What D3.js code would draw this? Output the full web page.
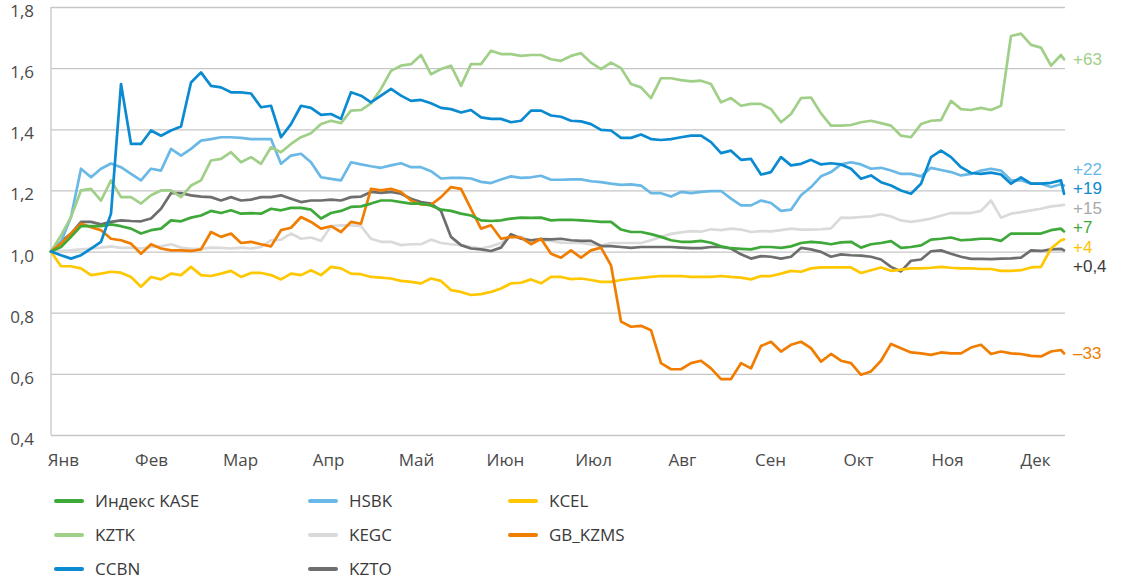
<!DOCTYPE html>
<html><head><meta charset="utf-8">
<script src="https://cdn.jsdelivr.net/npm/d3@7"></script>
<style>
body{margin:0;background:#fff}
svg{display:block;font-family:'Open Sans',sans-serif}
</style>
</head><body>
<svg id="chart" width="1121" height="584"></svg>
<script>
// ---------- DATA ----------
const months = ["Янв","Фев","Мар","Апр","Май","Июн","Июл","Авг","Сен","Окт","Ноя","Дек"];
// month label positions on the trading-day sample index
const monthPos = [1.2, 10.0, 18.9, 27.7, 36.5, 45.4, 54.2, 63.1, 71.9, 80.7, 89.6, 98.4];
const yTicks = [0.4, 0.6, 0.8, 1.0, 1.2, 1.4, 1.6, 1.8];
// sample index (roughly every few trading days, last = year end)
const sampleIdx = d3.range(102).concat([101.3]);

const kase = [
1.0,1.015,1.048,1.083,1.083,1.083,1.089,1.083,1.075,1.059,1.07,1.075,1.102,1.099,1.111,1.118,1.133,
1.126,1.135,1.124,1.126,1.124,1.140,1.135,1.143,1.143,1.137,1.108,1.126,1.133,1.146,1.148,1.157,1.167,
1.167,1.162,1.157,1.157,1.151,1.137,1.133,1.124,1.118,1.102,1.1,1.102,1.108,1.111,1.110,1.111,1.102,
1.104,1.104,1.102,1.1,1.097,1.097,1.072,1.064,1.064,1.057,1.048,1.037,1.032,1.032,1.035,1.029,1.017,
1.011,1.009,1.007,1.015,1.015,1.012,1.017,1.028,1.032,1.029,1.024,1.030,1.032,1.013,1.024,1.028,1.034,
1.012,1.015,1.020,1.039,1.042,1.046,1.037,1.039,1.042,1.042,1.035,1.059,1.059,1.059,1.059,1.070,1.075,1.066];

const kztk = [
1.0,1.053,1.113,1.2,1.205,1.167,1.233,1.178,1.178,1.157,1.184,1.2,1.2,1.178,1.216,1.233,1.298,
1.303,1.325,1.292,1.309,1.287,1.341,1.325,1.352,1.374,1.387,1.417,1.428,1.42,1.461,1.463,1.485,1.532,
1.591,1.608,1.613,1.643,1.580,1.597,1.608,1.542,1.613,1.613,1.657,1.646,1.646,1.640,1.643,1.643,1.629,
1.624,1.640,1.649,1.618,1.597,1.618,1.6,1.548,1.537,1.502,1.567,1.567,1.561,1.557,1.559,1.548,1.488,
1.502,1.477,1.483,1.483,1.466,1.423,1.45,1.502,1.504,1.452,1.412,1.412,1.414,1.423,1.428,1.42,1.412,
1.379,1.374,1.417,1.428,1.430,1.493,1.466,1.463,1.47,1.463,1.477,1.705,1.713,1.676,1.667,1.608,1.643,1.629];

const ccbn = [
1.0,0.988,0.977,0.988,1.010,1.032,1.124,1.548,1.352,1.352,1.396,1.379,1.396,1.409,1.553,1.586,1.542,
1.537,1.521,1.521,1.517,1.472,1.477,1.374,1.417,1.477,1.470,1.447,1.450,1.434,1.521,1.510,1.488,1.510,
1.532,1.510,1.493,1.496,1.485,1.470,1.466,1.455,1.463,1.439,1.434,1.434,1.423,1.428,1.461,1.461,1.445,
1.441,1.428,1.426,1.417,1.398,1.396,1.372,1.372,1.383,1.368,1.365,1.368,1.374,1.379,1.379,1.358,1.322,
1.330,1.300,1.303,1.252,1.260,1.309,1.282,1.287,1.300,1.285,1.289,1.285,1.271,1.238,1.249,1.227,1.216,
1.2,1.189,1.222,1.309,1.33,1.309,1.276,1.257,1.254,1.258,1.252,1.222,1.243,1.222,1.222,1.225,1.233,1.189];

const hsbk = [
1.0,1.032,1.113,1.271,1.243,1.271,1.288,1.276,1.254,1.233,1.271,1.265,1.336,1.314,1.336,1.363,1.368,
1.374,1.374,1.372,1.368,1.368,1.368,1.287,1.314,1.320,1.292,1.243,1.238,1.233,1.292,1.285,1.279,1.274,
1.282,1.289,1.276,1.276,1.263,1.239,1.241,1.241,1.239,1.228,1.224,1.236,1.246,1.241,1.243,1.248,1.235,
1.235,1.236,1.236,1.230,1.227,1.222,1.218,1.220,1.216,1.191,1.191,1.180,1.195,1.191,1.195,1.198,1.198,
1.173,1.151,1.151,1.167,1.159,1.133,1.137,1.184,1.211,1.246,1.26,1.285,1.292,1.285,1.271,1.274,1.265,
1.254,1.254,1.246,1.274,1.267,1.26,1.249,1.254,1.265,1.271,1.265,1.233,1.233,1.222,1.222,1.211,1.220,1.216];

const kegc = [
1.0,1.002,1.004,1.007,1.01,1.013,1.017,1.012,1.013,1.01,1.015,1.017,1.024,1.013,1.009,1.009,1.013,
1.012,1.010,1.013,1.010,1.015,1.037,1.039,1.059,1.042,1.046,1.035,1.083,1.086,1.086,1.083,1.042,1.032,
1.032,1.021,1.024,1.024,1.039,1.028,1.024,1.021,1.015,1.010,1.017,1.028,1.053,1.048,1.035,1.037,1.035,
1.029,1.028,1.028,1.023,1.020,1.028,1.028,1.028,1.028,1.037,1.048,1.058,1.063,1.067,1.065,1.073,1.070,
1.075,1.072,1.064,1.067,1.066,1.070,1.075,1.072,1.072,1.073,1.076,1.111,1.110,1.113,1.115,1.122,1.115,
1.102,1.097,1.102,1.108,1.117,1.126,1.126,1.126,1.133,1.167,1.111,1.124,1.129,1.135,1.140,1.148,1.151,1.153];

const kzto = [
1.0,1.032,1.059,1.097,1.097,1.089,1.097,1.102,1.1,1.099,1.108,1.14,1.191,1.191,1.184,1.180,1.178,
1.167,1.178,1.167,1.170,1.178,1.178,1.184,1.173,1.162,1.167,1.167,1.170,1.167,1.178,1.180,1.195,1.192,
1.195,1.189,1.173,1.162,1.157,1.133,1.048,1.021,1.010,1.007,1.002,1.013,1.057,1.042,1.037,1.041,1.040,
1.042,1.037,1.035,1.035,1.018,1.018,1.015,1.012,1.015,1.015,1.015,1.015,1.013,1.011,1.011,1.015,1.015,
1.010,0.991,0.977,0.985,0.983,0.977,0.983,1.012,1.007,0.999,0.983,0.991,0.988,0.987,0.983,0.974,0.950,
0.935,0.970,0.974,1.001,1.004,0.993,0.983,0.976,0.976,0.975,0.977,0.978,0.980,1.004,1.002,1.007,1.009,1.004];

const kcel = [
1.0,0.952,0.952,0.945,0.923,0.928,0.934,0.931,0.917,0.885,0.917,0.909,0.928,0.923,0.950,0.923,0.920,
0.928,0.937,0.917,0.930,0.930,0.923,0.909,0.928,0.923,0.939,0.923,0.950,0.945,0.928,0.926,0.917,0.915,
0.912,0.904,0.901,0.896,0.912,0.904,0.874,0.868,0.858,0.861,0.868,0.879,0.896,0.898,0.909,0.896,0.917,
0.917,0.910,0.912,0.907,0.901,0.901,0.907,0.911,0.914,0.917,0.920,0.920,0.920,0.917,0.917,0.917,0.920,
0.917,0.915,0.909,0.920,0.920,0.928,0.937,0.934,0.945,0.948,0.948,0.948,0.948,0.930,0.939,0.948,0.937,
0.941,0.945,0.945,0.947,0.95,0.947,0.945,0.945,0.943,0.943,0.937,0.937,0.939,0.948,0.95,1.01,1.037,1.040];

const gbkzms = [
1.0,1.026,1.059,1.091,1.080,1.070,1.042,1.037,1.026,0.993,1.024,1.010,1.004,1.004,1.002,1.007,1.064,
1.048,1.059,1.028,1.032,1.024,1.017,1.070,1.078,1.113,1.097,1.075,1.083,1.064,1.097,1.091,1.205,1.2,
1.205,1.195,1.167,1.154,1.153,1.178,1.211,1.205,1.140,1.075,1.086,1.042,1.048,1.046,1.024,1.042,0.993,
0.980,1.004,0.980,1.004,1.013,0.955,0.771,0.754,0.757,0.743,0.635,0.615,0.615,0.635,0.643,0.618,0.583,
0.583,0.635,0.618,0.691,0.705,0.673,0.695,0.705,0.684,0.640,0.665,0.643,0.635,0.597,0.608,0.643,0.698,
0.684,0.670,0.667,0.662,0.670,0.667,0.667,0.686,0.695,0.665,0.673,0.667,0.665,0.659,0.657,0.673,0.678,0.667];

const seriesNames = ["Индекс KASE","KZTK","CCBN","HSBK","KEGC","KZTO","KCEL","GB_KZMS"];
const seriesValues = [kase, kztk, ccbn, hsbk, kegc, kzto, kcel, gbkzms];
const endLabels = ["+7","+63","+19","+22","+15","+0,4","+4","–33"];

// ---------- STYLE ----------
const lineColors = ["#3ea838","#a0cf88","#0a8ad0","#6ab8e6","#dadada","#6e6e6e","#ffc700","#f07d00"];
const labelColors = ["#3ea838","#a0cf88","#0a8ad0","#6ab8e6","#a9a9a9","#3a3a3a","#ffc200","#f07d00"];
const drawOrder = [4, 5, 6, 3, 1, 7, 0, 2];

const svg = d3.select("#chart");
const L = 51, R = 1065, T = 7, B = 435;

const x = d3.scaleLinear().domain([0, 101.3]).range([L, 1064]);
const y = d3.scaleLinear().domain([0.4, 1.8]).range([B, T]);

// gridlines
svg.append("g")
  .attr("transform", `translate(${L},0)`)
  .call(d3.axisLeft(y).tickValues(yTicks).tickSize(-(R - L)).tickFormat(""))
  .call(g => g.select(".domain").remove())
  .call(g => g.selectAll("line").attr("stroke", "#c6c6c6").attr("stroke-width", 1.3));

// left axis line
svg.append("line").attr("x1", L).attr("x2", L).attr("y1", T).attr("y2", B)
  .attr("stroke", "#c6c6c6").attr("stroke-width", 1.3);

// y labels
const fmt = d => d3.format(".1f")(d).replace(".", ",");
svg.append("g")
  .attr("transform", `translate(${L},4)`)
  .call(d3.axisLeft(y).tickValues(yTicks).tickSize(0).tickPadding(17).tickFormat(fmt))
  .call(g => g.select(".domain").remove())
  .call(g => g.selectAll("text").attr("fill", "#4a4a4a").style("font-size", "17px")
      .style("font-family", "'Open Sans',sans-serif"));

// x labels
svg.append("g")
  .attr("transform", `translate(0,${B})`)
  .call(d3.axisBottom(x).tickValues(monthPos).tickSize(0).tickPadding(19)
      .tickFormat((d, i) => months[i]))
  .call(g => g.select(".domain").remove())
  .call(g => g.selectAll("text").attr("fill", "#4a4a4a").style("font-size", "17px")
      .style("font-family", "'Open Sans',sans-serif"));

// lines
const line = d3.line().x((d, i) => x(sampleIdx[i])).y(d => y(d));
drawOrder.forEach(k => {
  svg.append("path")
    .datum(seriesValues[k])
    .attr("d", line)
    .attr("fill", "none")
    .attr("stroke", lineColors[k])
    .attr("stroke-width", 2.7)
    .attr("stroke-linejoin", "round")
    .attr("stroke-linecap", "round");
});

// end labels with simple collision avoidance
const gap = 19.5;
let items = seriesValues.map((v, k) => ({k, orig: y(v[v.length - 1])}));
items.sort((a, b) => a.orig - b.orig);
items.forEach((it, i) => { it.pos = i === 0 ? it.orig : Math.max(it.orig, items[i - 1].pos + gap); });
let clusters = [], cur = [items[0]];
for (let i = 1; i < items.length; i++) {
  if (items[i].pos - items[i - 1].pos <= gap + 0.01) cur.push(items[i]);
  else { clusters.push(cur); cur = [items[i]]; }
}
clusters.push(cur);
clusters.forEach(c => {
  const shift = d3.mean(c, d => d.orig) - d3.mean(c, d => d.pos);
  c.forEach(d => d.pos += shift);
});
svg.append("g").selectAll("text").data(items).join("text")
  .attr("x", x(101.3) + 9)
  .attr("y", d => d.pos)
  .attr("dy", "0.35em")
  .attr("fill", d => labelColors[d.k])
  .style("font-family", "'Liberation Sans',Arial,sans-serif")
  .style("font-size", "17px")
  .text(d => endLabels[d.k]);

// legend (3 columns, column-major)
const colX = [54, 308, 508], rowY = [501, 535, 569];
const lg = svg.append("g");
seriesNames.forEach((name, i) => {
  const cx = colX[Math.floor(i / 3)], cy = rowY[i % 3];
  lg.append("line").attr("x1", cx + 2).attr("x2", cx + 28).attr("y1", cy).attr("y2", cy)
    .attr("stroke", lineColors[i]).attr("stroke-width", 4).attr("stroke-linecap", "round");
  lg.append("text").attr("x", cx + 41).attr("y", cy).attr("dy", "0.35em")
    .attr("fill", "#3a3a3a").style("font-size", "17px").text(name);
});
</script>
</body></html>
